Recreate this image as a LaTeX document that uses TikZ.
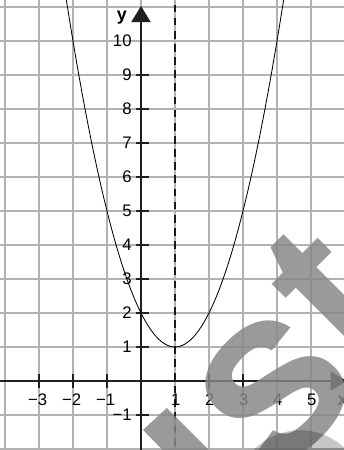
\documentclass[tikz,border=0pt]{standalone}
\usepackage{fontspec}
\setmainfont{Liberation Sans}
\usetikzlibrary{arrows.meta}
\begin{document}
\begin{tikzpicture}[x=1cm,y=1cm,
  gridline/.style={draw=black!30, line width=1.2pt},
  axisline/.style={draw=black!88, line width=1.5pt},
  tickmark/.style={draw=black!88, line width=1.3pt},
  dashline/.style={draw=black!90, line width=1.5pt, dash pattern=on 6.5pt off 4.5pt},
  curveline/.style={draw=black, line width=0.7pt},
  lbl/.style={inner sep=0pt, font=\fontsize{14}{16}\selectfont},
  axlbl/.style={inner sep=0pt, font=\fontsize{15}{17}\selectfont\bfseries},
  wmcol/.style={fill=black!47, fill opacity=0.84},
  wm/.style={inner sep=0pt, outer sep=0pt, rotate=45, text=black!47, text opacity=0.84,
    font=\fontsize{180}{180}\selectfont\bfseries}]
\useasboundingbox (-4.147,-2.03) rectangle (5.97,11.206);
% grid
\foreach \i in {-4,...,6} \draw[gridline] (\i,-2.3) -- (\i,11.4);
\foreach \j in {-2,...,11} \draw[gridline] (-4.3,\j) -- (6.2,\j);
% symmetry axis
\coordinate (db) at (1,-2.3);
\coordinate (dt) at (1,11.4);
\draw[dashline] (db) -- (dt);
% axes
\coordinate (xs) at (-4.3,0);
\coordinate (xe) at (6.05,0);
\coordinate (ys) at (0,-2.3);
\coordinate (ye) at (0,11.03);
\draw[axisline, -{Triangle[length=13.5pt,width=16pt]}] (xs) -- (xe);
\draw[axisline, -{Triangle[length=13.5pt,width=16pt]}] (ys) -- (ye);
% ticks
\foreach \k in {-3,-2,-1,2,3} \draw[tickmark] (\k,-0.22) -- (\k,0.22);
\foreach \k in {-1,1,2,...,9} \draw[tickmark] (-0.14,\k) -- (0.23,\k);
% parabola
\draw[curveline, domain=-2.25:4.25, samples=120, smooth] plot (\x, {(\x-1)^2+1});
% y labels
\foreach \k in {-1,1,2,...,10} \node[lbl, anchor=east] (ly\k) at (-0.27,\k) {\ifnum\k<0 −1\else\k\fi};
% x labels
\foreach \k in {-3,-2,-1} \node[lbl, anchor=north] (lxm\k) at (\k-0.04,-0.38) {−\the\numexpr-\k\relax};
\foreach \k in {1,...,5} \node[lbl, anchor=north] (lx\k) at (\k+0.02,-0.38) {\k};
\node[axlbl] (ylab) at (-0.56,10.68) {y};
\node[axlbl] (xlab) at (5.93,-0.58) {x};
% watermark
\fill[wmcol] (0.06,-1.44) -- (0.76,-0.79) -- (2.76,-2.79) -- (2.06,-3.49) -- cycle;
\node[wm, font=\fontsize{205}{205}\selectfont\bfseries] (ws) at (3.95,-0.25) {s};
\node[wm] (wt) at (5.48,2.62) {t};
\begin{scope}[blend mode=multiply]
\fill[black!22] (4.68,-3.35) circle (1.9);
\end{scope}
\end{tikzpicture}
\end{document}
